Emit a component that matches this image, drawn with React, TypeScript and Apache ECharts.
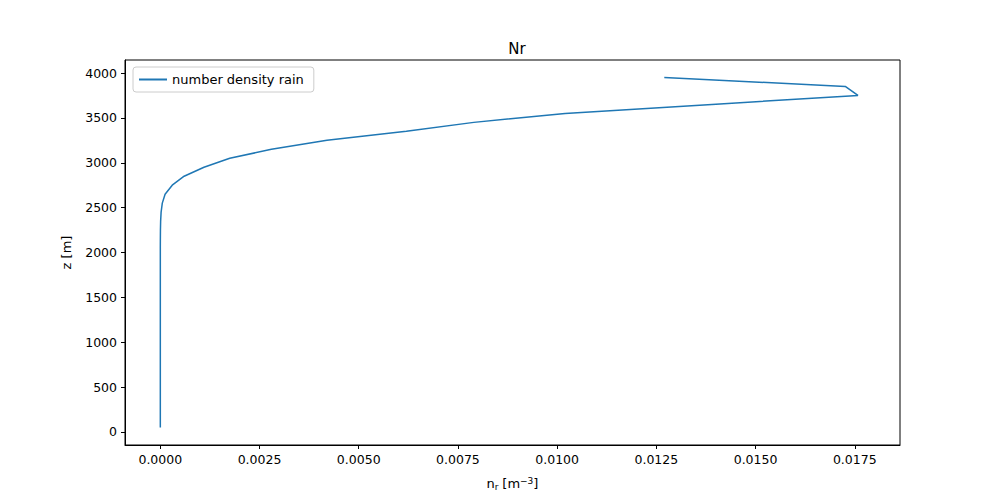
import { useEffect, useRef } from 'react';
import * as echarts from 'echarts';

const heights = [
  50, 150, 250, 350, 450, 550, 650, 750, 850, 950, 1050, 1150, 1250, 1350, 1450, 1550, 1650, 1750,
  1850, 1950, 2050, 2150, 2250, 2350, 2450, 2550, 2650, 2750, 2850, 2950, 3050, 3150, 3250, 3350,
  3450, 3550, 3650, 3750, 3850, 3950,
];
const numberDensity = [
  0, 0, 0, 0, 0, 0, 0, 0, 0, 0, 0, 0, 0, 0, 0, 0, 0, 0, 0, 0, 0, 0.000001, 0.000003, 0.000008,
  0.00002, 0.00005, 0.00012, 0.0003, 0.0006, 0.0011, 0.00175, 0.0028, 0.0042, 0.0062, 0.0079,
  0.0102, 0.0139, 0.01758, 0.01726, 0.0127,
];
const xTicks = [0, 0.0025, 0.005, 0.0075, 0.01, 0.0125, 0.015, 0.0175];
const yTicks = [0, 500, 1000, 1500, 2000, 2500, 3000, 3500, 4000];

export default function App() {
  const chartRef = useRef<HTMLDivElement>(null);

  useEffect(() => {
    if (!chartRef.current) return;
    const chart = echarts.init(chartRef.current, null, { renderer: 'svg' });
    const font = 'DejaVu Sans';
    const axisCommon = {
      axisLine: { show: true, onZero: false, lineStyle: { color: '#000' } },
      axisTick: { show: true, length: 4, lineStyle: { color: '#000' } },
      splitLine: { show: false },
    };

    chart.setOption({
      animation: false,
      textStyle: { fontFamily: font },
      title: {
        text: 'Nr',
        left: 512,
        top: 36,
        textAlign: 'center',
        textStyle: { fontSize: 15, fontWeight: 'normal', color: '#000', fontFamily: font },
      },
      legend: {
        left: 133,
        top: 67,
        padding: [6, 10, 6, 6],
        borderColor: '#ccc',
        borderWidth: 1,
        borderRadius: 3,
        itemWidth: 28,
        itemHeight: 2,
        icon: 'rect',
        textStyle: { fontSize: 13, color: '#000', fontFamily: font },
      },
      grid: { left: 125, right: 100, top: 60, bottom: 55, show: true, borderColor: '#000', borderWidth: 1 },
      xAxis: {
        type: 'value',
        min: -0.00089,
        max: 0.01864,
        ...axisCommon,
        axisLabel: {
          customValues: xTicks,
          color: '#000',
          fontSize: 12.5,
          formatter: (v: number) => v.toFixed(4),
        },
        axisTick: { ...axisCommon.axisTick, customValues: xTicks },
        name: '{n|n}{s|r} {n|[m}{p|−3}{n|]}',
        nameLocation: 'middle',
        nameGap: 31,
        nameTextStyle: {
          rich: {
            n: { fontSize: 13, color: '#000', fontFamily: font },
            s: { fontSize: 9, color: '#000', verticalAlign: 'bottom', padding: [6, 0, 0, 0], fontFamily: font },
            p: { fontSize: 9, color: '#000', verticalAlign: 'top', padding: [0, 0, 6, 0], fontFamily: font },
          },
        },
      },
      yAxis: {
        type: 'value',
        min: -145,
        max: 4145,
        ...axisCommon,
        axisLabel: {
          customValues: yTicks,
          color: '#000',
          fontSize: 12.5,
          formatter: (v: number) => String(v),
        },
        axisTick: { ...axisCommon.axisTick, customValues: yTicks },
        name: 'z [m]',
        nameLocation: 'middle',
        nameGap: 52,
        nameTextStyle: { fontSize: 13, color: '#000' },
      },
      series: [
        {
          name: 'number density rain',
          type: 'line',
          showSymbol: false,
          color: '#1f77b4',
          lineStyle: { width: 1.5 },
          data: heights.map((z, i) => [numberDensity[i], z]),
        },
      ],
    });

    return () => chart.dispose();
  }, []);

  return (
    <div
      ref={chartRef}
      style={{ position: 'absolute', left: 0, top: 0, width: '1000px', height: '500px', background: '#fff' }}
    />
  );
}
